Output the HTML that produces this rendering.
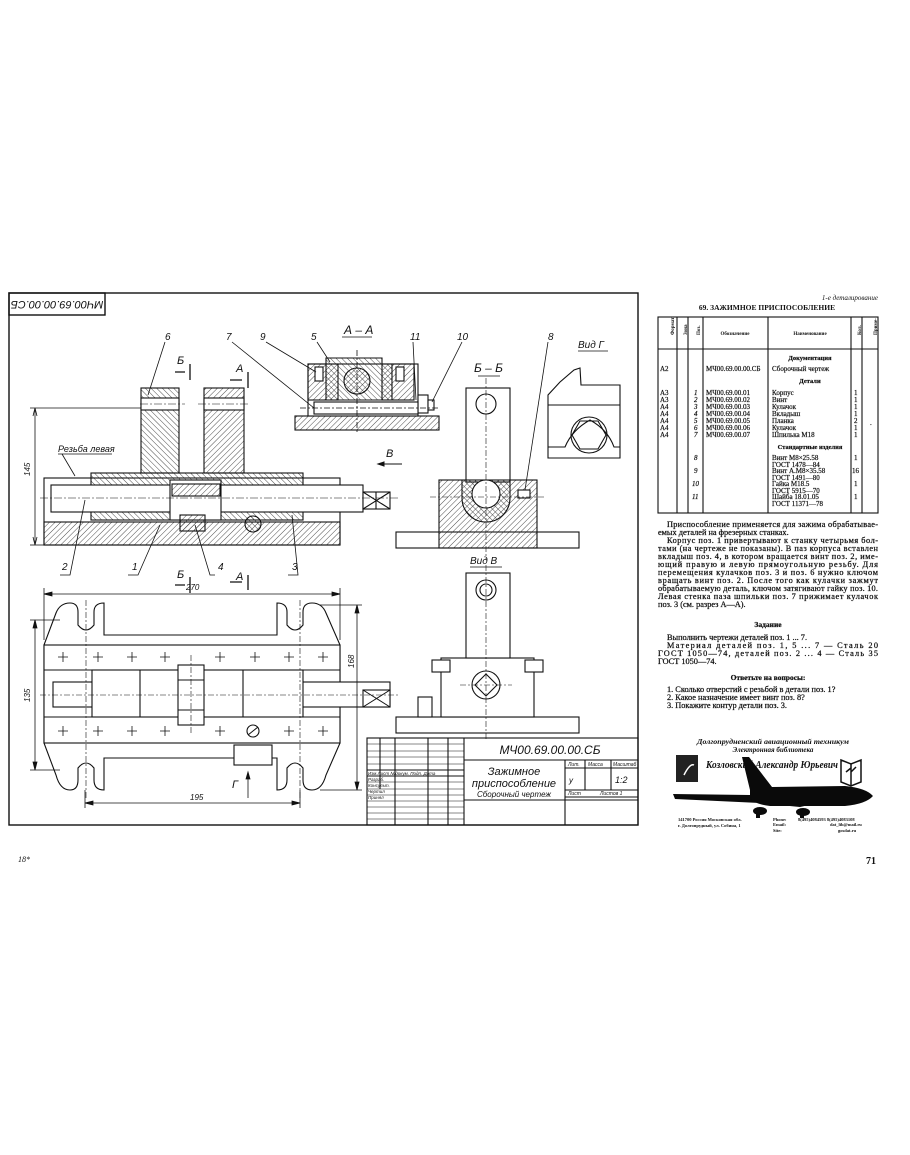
<!DOCTYPE html>
<html><head><meta charset="utf-8"><style>
html,body{margin:0;padding:0;background:#fff;}
svg{display:block;}
.d{font-family:"Liberation Sans",sans-serif;font-style:italic;fill:#111;}
.s{font-family:"Liberation Serif",serif;fill:#111;}
</style></head><body>
<svg width="910" height="1155" viewBox="0 0 910 1155" xmlns="http://www.w3.org/2000/svg">
<defs>
<pattern id="h" width="4" height="4" patternUnits="userSpaceOnUse" patternTransform="rotate(45)"><line x1="0" y1="0" x2="0" y2="4" stroke="#222" stroke-width="0.8"/></pattern>
<pattern id="h2" width="4" height="4" patternUnits="userSpaceOnUse" patternTransform="rotate(-45)"><line x1="0" y1="0" x2="0" y2="4" stroke="#222" stroke-width="0.8"/></pattern>
</defs>
<g fill="none" stroke="#111" stroke-width="1.4">
<rect x="9" y="293" width="629" height="532"/>
<rect x="9" y="293" width="96" height="22"/>
</g>
<text class="d" x="57" y="309" font-size="11" text-anchor="middle" transform="rotate(180 57 305)">МЧ00.69.00.00.СБ</text>

<!-- FRONT SECTION -->
<g stroke="#111" stroke-width="1.1">
<rect x="44" y="478" width="296" height="67" fill="#fff"/>
<rect x="44" y="522" width="296" height="23" fill="url(#h)"/>
<rect x="91" y="473" width="212" height="47" fill="url(#h2)"/>
<rect x="141" y="388" width="38" height="85" fill="url(#h2)"/>
<rect x="204" y="388" width="40" height="85" fill="url(#h)"/>
<rect x="141" y="398" width="38" height="12" fill="#fff"/>
<rect x="204" y="398" width="40" height="12" fill="#fff"/>
<rect x="51" y="485" width="312" height="27" fill="#fff"/>
<rect x="363" y="492" width="27" height="17" fill="#fff"/>
<path d="M363 492 L390 509 M363 509 L390 492 M376 492 L376 509" fill="none"/>
<rect x="170" y="480" width="51" height="40" fill="#fff"/>
<rect x="172" y="484" width="48" height="12" fill="url(#h)"/>
<rect x="180" y="515" width="25" height="16" fill="url(#h)"/>
<circle cx="253" cy="524" r="8" fill="url(#h2)"/>
</g>
<g stroke="#111" stroke-width="0.6" stroke-dasharray="8 2 2 2" fill="none">
<line x1="40" y1="498" x2="398" y2="498"/><line x1="140" y1="404" x2="185" y2="404"/><line x1="198" y1="404" x2="248" y2="404"/>
</g>
<g stroke="#111" stroke-width="0.8" fill="none">
<line x1="35" y1="408" x2="35" y2="545"/><line x1="30" y1="408" x2="141" y2="408"/><line x1="30" y1="545" x2="44" y2="545"/>
<path d="M35 408 l-2 8 M35 408 l2 8 M35 545 l-2 -8 M35 545 l2 -8"/>
<line x1="165" y1="342" x2="148" y2="395"/>
<line x1="58" y1="454" x2="112" y2="454"/><line x1="62" y1="454" x2="75" y2="476"/>
<path d="M60 575 L70 575 L85 500 M128 575 L138 575 L160 525 M215 575 L210 575 L195 525 M288 575 L298 575 L292 515"/>
<path d="M175 372 L185 372 M190 364 L190 380 M230 380 L242 380 M248 372 L248 388 M175 585 L185 585 M190 577 L190 593 M230 582 L242 582 M248 575 L248 590" stroke-width="1.3"/>
</g>
<text class="d" x="165" y="340" font-size="10">6</text>
<text class="d" x="177" y="364" font-size="11">Б</text>
<text class="d" x="236" y="372" font-size="11">А</text>
<text class="d" x="58" y="452" font-size="9">Резьба левая</text>
<text class="d" x="30" y="476" font-size="8" transform="rotate(-90 30 476)">145</text>
<text class="d" x="62" y="570" font-size="10">2</text>
<text class="d" x="132" y="570" font-size="10">1</text>
<text class="d" x="218" y="570" font-size="10">4</text>
<text class="d" x="292" y="570" font-size="10">3</text>
<text class="d" x="177" y="578" font-size="11">Б</text>
<text class="d" x="236" y="580" font-size="11">А</text>

<!-- A-A -->
<g stroke="#111" stroke-width="1.1">
<rect x="295" y="416" width="144" height="14" fill="url(#h)"/>
<rect x="308" y="364" width="110" height="52" fill="#fff"/>
<rect x="308" y="364" width="30" height="36" fill="url(#h)"/>
<rect x="382" y="364" width="32" height="36" fill="url(#h)"/>
<path d="M326 358 L382 358 L382 364 L392 364 L392 400 L326 400 L326 364 Z" fill="url(#h2)"/>
<circle cx="357" cy="381" r="13" fill="url(#h)"/>
<rect x="315" y="367" width="8" height="14" fill="#fff"/><rect x="396" y="367" width="8" height="14" fill="#fff"/>
<rect x="418" y="395" width="10" height="18" fill="#fff"/><rect x="428" y="400" width="6" height="10" fill="#fff"/>
<rect x="314" y="402" width="104" height="12" fill="#fff"/>
</g>
<g stroke="#111" stroke-width="0.8" fill="none">
<line x1="342" y1="337" x2="372" y2="337"/>
<path d="M232 342 L314 408 M266 342 L316 372 M317 342 L330 362 M413 342 L416 400 M462 342 L432 402"/>
<line x1="357" y1="350" x2="357" y2="432" stroke-dasharray="6 2 2 2"/><line x1="300" y1="408" x2="440" y2="408" stroke-dasharray="6 2 2 2"/>
</g>
<text class="d" x="344" y="334" font-size="12">А – А</text>
<text class="d" x="226" y="340" font-size="10">7</text>
<text class="d" x="260" y="340" font-size="10">9</text>
<text class="d" x="311" y="340" font-size="10">5</text>
<text class="d" x="410" y="340" font-size="10">11</text>
<text class="d" x="457" y="340" font-size="10">10</text>

<g stroke="#111" stroke-width="1" fill="none"><line x1="378" y1="464" x2="402" y2="464"/><path d="M378 464 l6 -2 v4 z" fill="#111"/></g>
<text class="d" x="386" y="457" font-size="11">В</text>

<!-- Б-Б -->
<g stroke="#111" stroke-width="1.1">
<rect x="466" y="388" width="44" height="94" fill="#fff"/>
<circle cx="486" cy="404" r="10" fill="#fff"/>
<rect x="396" y="532" width="183" height="16" fill="#fff"/>
<rect x="439" y="480" width="98" height="68" fill="url(#h)"/>
<path d="M462 480 L510 480 L510 498 A24 24 0 0 1 462 498 Z" fill="url(#h2)"/>
<circle cx="486" cy="494" r="14" fill="#fff"/>
<rect x="518" y="490" width="12" height="8" fill="#fff"/>
</g>
<g stroke="#111" stroke-width="0.6" fill="none" stroke-dasharray="6 2 2 2">
<line x1="486" y1="378" x2="486" y2="560"/><line x1="430" y1="497" x2="545" y2="497"/>
</g>
<line x1="548" y1="342" x2="525" y2="490" stroke="#111" stroke-width="0.8"/>
<line x1="478" y1="376" x2="500" y2="376" stroke="#111" stroke-width="0.8"/>
<text class="d" x="474" y="372" font-size="12">Б – Б</text>
<text class="d" x="548" y="340" font-size="10">8</text>

<!-- Вид Г -->
<g stroke="#111" stroke-width="1.1" fill="none">
<path d="M548 458 L548 395 L560 382 L574 370 L580 368 L581 385 L620 385 L620 458 Z"/>
<line x1="548" y1="405" x2="620" y2="405"/>
<path d="M548 447 L565 447 Q572 430 590 420 Q608 430 614 447 L620 447"/>
<circle cx="589" cy="435" r="18"/>
<polygon points="580,421 598,421 606,435 598,449 580,449 572,435"/>
</g>
<line x1="578" y1="351" x2="608" y2="351" stroke="#111" stroke-width="0.8"/>
<text class="d" x="578" y="348" font-size="10">Вид Г</text>

<!-- PLAN VIEW -->
<g stroke="#111" stroke-width="1.1" fill="#fff">
<path d="M44 645 L56 613 Q60 603 70 603 Q78 603 78 612 L78 625 Q86 635 94 625 L94 612 Q94 603 104 603 L104 635 L277 635 L277 603 Q287 603 287 612 L287 625 Q295 635 303 625 L303 612 Q303 603 312 603 Q322 603 326 613 L340 645 L340 743 L326 775 Q322 790 312 790 Q303 790 303 780 L303 768 Q295 758 287 768 L287 780 Q287 790 277 790 L277 758 L104 758 L104 790 Q94 790 94 780 L94 768 Q86 758 78 768 L78 780 Q78 790 70 790 Q60 790 56 775 L44 743 Z"/>
<rect x="44" y="645" width="296" height="98"/>
<line x1="44" y1="670" x2="340" y2="670"/><line x1="44" y1="717" x2="340" y2="717"/>
<rect x="53" y="682" width="337" height="25"/>
<rect x="92" y="670" width="211" height="47"/>
<line x1="140" y1="670" x2="140" y2="717"/><line x1="243" y1="670" x2="243" y2="717"/>
<rect x="178" y="665" width="26" height="60"/>
<line x1="178" y1="680" x2="204" y2="680"/><line x1="178" y1="710" x2="204" y2="710"/>
<rect x="363" y="690" width="27" height="17"/>
<circle cx="253" cy="731" r="6"/>
<rect x="234" y="745" width="38" height="20"/>
</g>
<path d="M363 690 L390 707 M363 707 L390 690 M248 735 L258 727" stroke="#111" stroke-width="1" fill="none"/>
<g stroke="#111" stroke-width="0.8">
<path d="M58 657 h10 M63 652 v10 M93 657 h10 M98 652 v10 M127 657 h10 M132 652 v10 M160 657 h10 M165 652 v10 M215 657 h10 M220 652 v10 M250 657 h10 M255 652 v10 M284 657 h10 M289 652 v10 M318 657 h10 M323 652 v10"/>
<path d="M58 731 h10 M63 726 v10 M93 731 h10 M98 726 v10 M127 731 h10 M132 726 v10 M160 731 h10 M165 726 v10 M215 731 h10 M220 726 v10 M284 731 h10 M289 726 v10 M318 731 h10 M323 726 v10"/>
</g>
<g stroke="#111" stroke-width="0.6" fill="none" stroke-dasharray="6 2 2 2">
<line x1="40" y1="695" x2="398" y2="695"/><line x1="86" y1="600" x2="86" y2="800"/><line x1="300" y1="600" x2="300" y2="800"/><line x1="191" y1="655" x2="191" y2="735"/>
</g>
<g stroke="#111" stroke-width="0.8" fill="none">
<line x1="44" y1="594" x2="340" y2="594"/><line x1="44" y1="588" x2="44" y2="640"/><line x1="340" y1="588" x2="340" y2="640"/>
<path d="M44 594 l8 -2 v4 z M340 594 l-8 -2 v4 z" fill="#111"/>
<line x1="35" y1="620" x2="35" y2="770"/><line x1="30" y1="620" x2="60" y2="620"/><line x1="30" y1="770" x2="60" y2="770"/>
<path d="M35 620 l-2 8 h4 z M35 770 l-2 -8 h4 z" fill="#111"/>
<line x1="357" y1="605" x2="357" y2="790"/><line x1="320" y1="605" x2="362" y2="605"/><line x1="320" y1="790" x2="362" y2="790"/>
<path d="M357 605 l-2 8 h4 z M357 790 l-2 -8 h4 z" fill="#111"/>
<line x1="85" y1="803" x2="300" y2="803"/><line x1="85" y1="790" x2="85" y2="808"/><line x1="300" y1="790" x2="300" y2="808"/>
<path d="M85 803 l8 -2 v4 z M300 803 l-8 -2 v4 z" fill="#111"/>
<line x1="248" y1="798" x2="248" y2="775"/><path d="M248 772 l-2 7 h4 z" fill="#111"/>
</g>
<text class="d" x="186" y="590" font-size="8">270</text>
<text class="d" x="190" y="800" font-size="8">195</text>
<text class="d" x="30" y="702" font-size="8" transform="rotate(-90 30 702)">135</text>
<text class="d" x="354" y="668" font-size="8" transform="rotate(-90 354 668)">168</text>
<text class="d" x="232" y="788" font-size="11">Г</text>

<!-- Вид В -->
<g stroke="#111" stroke-width="1.1" fill="#fff">
<rect x="396" y="717" width="183" height="16"/>
<rect x="441" y="658" width="93" height="59"/>
<rect x="432" y="660" width="18" height="12"/><rect x="525" y="660" width="18" height="12"/>
<rect x="418" y="697" width="14" height="20"/>
<rect x="466" y="573" width="44" height="85"/>
<circle cx="486" cy="590" r="10"/><circle cx="486" cy="590" r="6"/>
<circle cx="486" cy="685" r="14"/>
<polygon points="486,674 497,685 486,696 475,685"/>
</g>
<g stroke="#111" stroke-width="0.6" fill="none" stroke-dasharray="6 2 2 2">
<line x1="486" y1="565" x2="486" y2="740"/><line x1="460" y1="685" x2="512" y2="685"/>
</g>
<line x1="470" y1="567" x2="502" y2="567" stroke="#111" stroke-width="0.8"/>
<text class="d" x="470" y="564" font-size="10">Вид В</text>

<!-- TITLE BLOCK -->
<g stroke="#111" stroke-width="1.1" fill="none">
<rect x="367" y="738" width="271" height="87"/>
<line x1="464" y1="738" x2="464" y2="825"/>
<line x1="464" y1="760" x2="638" y2="760"/>
<line x1="464" y1="800" x2="638" y2="800"/>
<line x1="565" y1="760" x2="565" y2="825"/>
<line x1="565" y1="768" x2="638" y2="768"/><line x1="565" y1="790" x2="638" y2="790"/><line x1="565" y1="797" x2="638" y2="797"/>
<line x1="585" y1="760" x2="585" y2="790"/><line x1="611" y1="760" x2="611" y2="790"/>
<line x1="380" y1="738" x2="380" y2="789"/><line x1="395" y1="738" x2="395" y2="825"/><line x1="428" y1="738" x2="428" y2="825"/><line x1="448" y1="738" x2="448" y2="825"/>
<line x1="367" y1="770" x2="464" y2="770"/><line x1="367" y1="776" x2="464" y2="776"/>
</g>
<g stroke="#111" stroke-width="0.5">
<path d="M367 744 H464 M367 751 H464 M367 757 H464 M367 764 H464 M367 782 H464 M367 789 H464 M367 795 H464 M367 801 H464 M367 807 H464 M367 813 H464 M367 819 H464"/>
</g>
<text class="d" x="550" y="754" font-size="12" text-anchor="middle">МЧ00.69.00.00.СБ</text>
<text class="d" x="514" y="775" font-size="11" text-anchor="middle">Зажимное</text>
<text class="d" x="514" y="787" font-size="11" text-anchor="middle">приспособление</text>
<text class="d" x="514" y="797" font-size="8" text-anchor="middle">Сборочный чертеж</text>
<text class="d" x="568" y="766" font-size="5">Лит.</text><text class="d" x="588" y="766" font-size="5">Масса</text><text class="d" x="613" y="766" font-size="5">Масштаб</text>
<text class="d" x="569" y="783" font-size="8">у</text><text class="d" x="615" y="783" font-size="9">1:2</text>
<text class="d" x="568" y="795" font-size="5">Лист</text><text class="d" x="600" y="795" font-size="5">Листов 1</text>
<g class="d" font-size="4.5"><text x="368" y="775">Изм.Лист  №докум. Подп. Дата</text><text x="368" y="781">Разраб.</text><text x="368" y="787">Консульт.</text><text x="368" y="793">Чертил</text><text x="368" y="799">Принял</text></g>

<!-- RIGHT PAGE -->
<text class="s" x="878" y="300" font-size="7" font-style="italic" text-anchor="end">1-е деталирование</text>
<text class="s" x="767" y="310" font-size="7.5" font-weight="bold" text-anchor="middle">69. ЗАЖИМНОЕ ПРИСПОСОБЛЕНИЕ</text>
<g stroke="#111" stroke-width="1.1" fill="none">
<rect x="658" y="317" width="220" height="196"/>
<line x1="658" y1="349" x2="878" y2="349"/>
<path d="M677 317 V513 M688 317 V513 M703 317 V513 M768 317 V513 M851 317 V513 M862 317 V513"/>
</g>
<g class="s" font-size="5" font-weight="bold">
<text x="735" y="335" text-anchor="middle">Обозначение</text>
<text x="810" y="335" text-anchor="middle">Наименование</text>
<text x="669" y="340" transform="rotate(-90 669 335)">Формат</text>
<text x="684" y="338" transform="rotate(-90 684 335)">Зона</text>
<text x="697" y="338" transform="rotate(-90 697 335)">Поз.</text>
<text x="858" y="338" transform="rotate(-90 858 335)">Кол.</text>
<text x="870" y="342" transform="rotate(-90 870 335)">Приме-</text>
</g>
<g class="s" font-size="7" stroke="#111" stroke-width="0.2">
<text x="810" y="360" text-anchor="middle" font-weight="bold" font-size="6.5">Документация</text>
<text x="660" y="371">А2</text><text x="706" y="371">МЧ00.69.00.00.СБ</text><text x="772" y="371">Сборочный чертеж</text>
<text x="810" y="383" text-anchor="middle" font-weight="bold" font-size="6.5">Детали</text>
<text x="660" y="395">А3</text><text x="660" y="402">А3</text><text x="660" y="409">А4</text><text x="660" y="416">А4</text><text x="660" y="423">А4</text><text x="660" y="430">А4</text><text x="660" y="437">А4</text>
<g font-style="italic"><text x="694" y="395">1</text><text x="694" y="402">2</text><text x="694" y="409">3</text><text x="694" y="416">4</text><text x="694" y="423">5</text><text x="694" y="430">6</text><text x="694" y="437">7</text></g>
<text x="706" y="395">МЧ00.69.00.01</text><text x="706" y="402">МЧ00.69.00.02</text><text x="706" y="409">МЧ00.69.00.03</text><text x="706" y="416">МЧ00.69.00.04</text><text x="706" y="423">МЧ00.69.00.05</text><text x="706" y="430">МЧ00.69.00.06</text><text x="706" y="437">МЧ00.69.00.07</text>
<text x="772" y="395">Корпус</text><text x="772" y="402">Винт</text><text x="772" y="409">Кулачок</text><text x="772" y="416">Вкладыш</text><text x="772" y="423">Планка</text><text x="772" y="430">Кулачок</text><text x="772" y="437">Шпилька М18</text>
<text x="854" y="395">1</text><text x="854" y="402">1</text><text x="854" y="409">1</text><text x="854" y="416">1</text><text x="854" y="423">2</text><text x="854" y="430">1</text><text x="854" y="437">1</text>
<text x="810" y="449" text-anchor="middle" font-weight="bold" font-size="6.5">Стандартные изделия</text>
<g font-style="italic"><text x="694" y="460">8</text><text x="694" y="473">9</text><text x="692" y="486">10</text><text x="692" y="499">11</text></g>
<text x="772" y="460">Винт М8×25.58</text><text x="772" y="467">ГОСТ 1478—84</text>
<text x="772" y="473">Винт А.М8×35.58</text><text x="772" y="480">ГОСТ 1491—80</text>
<text x="772" y="486">Гайка М18.5</text><text x="772" y="493">ГОСТ 5915—70</text>
<text x="772" y="499">Шайба 18.01.05</text><text x="772" y="506">ГОСТ 11371—78</text>
<text x="854" y="460">1</text><text x="852" y="473">16</text><text x="854" y="486">1</text><text x="854" y="499">1</text>
<text x="870" y="425">.</text>
</g>
<g class="s" font-size="8.3" stroke="#111" stroke-width="0.25">
<text x="667" y="527" textLength="211" lengthAdjust="spacing">Приспособление применяется для зажима обрабатывае-</text>
<text x="658" y="535">емых деталей на фрезерных станках.</text>
<text x="667" y="543" textLength="211" lengthAdjust="spacing">Корпус поз. 1 привертывают к станку четырьмя бол-</text>
<text x="658" y="551" textLength="220" lengthAdjust="spacing">тами (на чертеже не показаны). В паз корпуса вставлен</text>
<text x="658" y="559" textLength="220" lengthAdjust="spacing">вкладыш поз. 4, в котором вращается винт поз. 2, име-</text>
<text x="658" y="567" textLength="220" lengthAdjust="spacing">ющий правую и левую прямоугольную резьбу. Для</text>
<text x="658" y="575" textLength="220" lengthAdjust="spacing">перемещения кулачков поз. 3 и поз. 6 нужно ключом</text>
<text x="658" y="583" textLength="220" lengthAdjust="spacing">вращать винт поз. 2. После того как кулачки зажмут</text>
<text x="658" y="591" textLength="220" lengthAdjust="spacing">обрабатываемую деталь, ключом затягивают гайку поз. 10.</text>
<text x="658" y="599" textLength="220" lengthAdjust="spacing">Левая стенка паза шпильки поз. 7 прижимает кулачок</text>
<text x="658" y="607">поз. 3 (см. разрез А—А).</text>
<text x="768" y="627" text-anchor="middle" font-weight="bold" font-size="7.5">Задание</text>
<text x="667" y="640">Выполнить чертежи деталей поз. 1 ... 7.</text>
<text x="667" y="648" textLength="211" lengthAdjust="spacing">Материал деталей поз. 1, 5 ... 7 — Сталь 20</text>
<text x="658" y="656" textLength="220" lengthAdjust="spacing">ГОСТ 1050—74, деталей поз. 2 ... 4 — Сталь 35</text>
<text x="658" y="664">ГОСТ 1050—74.</text>
<text x="768" y="680" text-anchor="middle" font-weight="bold" font-size="7.5">Ответьте на вопросы:</text>
<text x="667" y="692">1. Сколько отверстий с резьбой в детали поз. 1?</text>
<text x="667" y="700">2. Какое назначение имеет винт поз. 8?</text>
<text x="667" y="708">3. Покажите контур детали поз. 3.</text>
</g>

<!-- LOGO -->
<g class="s" font-weight="bold" font-style="italic" fill="#111">
<text x="773" y="744" font-size="7" text-anchor="middle" textLength="152" lengthAdjust="spacingAndGlyphs">Долгопрудненский авиационный техникум</text>
<text x="773" y="752" font-size="7" text-anchor="middle">Электронная библиотека</text>
<text x="772" y="768" font-size="10" text-anchor="middle" textLength="132" lengthAdjust="spacingAndGlyphs">Козловский Александр Юрьевич</text>
</g>
<rect x="676" y="755" width="22" height="27" fill="#222"/>
<path d="M684 775 q6 -12 10 -10" stroke="#fff" stroke-width="1.5" fill="none"/>
<path d="M841 760 L851 764 L861 760 L861 782 L851 786 L841 782 Z" fill="none" stroke="#111" stroke-width="1.5"/>
<path d="M851 764 V786 M851 768 l-5 4 M851 772 l5 -5" stroke="#111" stroke-width="1.5"/>
<g fill="#0a0a0a">
<path d="M673 794 L750 795 L790 798 L860 790 L866 792 L800 807 L760 803 L675 799 Z"/>
<path d="M750 790 L742 757 L749 757 L772 787 L845 786 Q866 788 873 796 Q866 804 845 806 L770 806 Q752 804 750 796 Z"/>
<ellipse cx="760" cy="811" rx="7" ry="4"/><ellipse cx="803" cy="812" rx="7" ry="4"/>
<rect x="756" y="814" width="4" height="4"/><rect x="800" y="814" width="4" height="4"/>
</g>
<g class="s" font-size="4.5" font-weight="bold">
<text x="678" y="821">141700 Россия Московская обл.</text><text x="678" y="827">г. Долгопрудный, ул. Собина, 1</text>
<text x="773" y="821">Phone:</text><text x="798" y="821">8(495)4084593 8(495)4083108</text>
<text x="773" y="826">Email:</text><text x="830" y="826">dat_lib@mail.ru</text>
<text x="773" y="832">Site:</text><text x="838" y="832">gosdat.ru</text>
</g>

<text class="s" x="18" y="862" font-size="8" font-style="italic">18*</text>
<text class="s" x="866" y="864" font-size="10" font-weight="bold">71</text>
</svg>
</body></html>
